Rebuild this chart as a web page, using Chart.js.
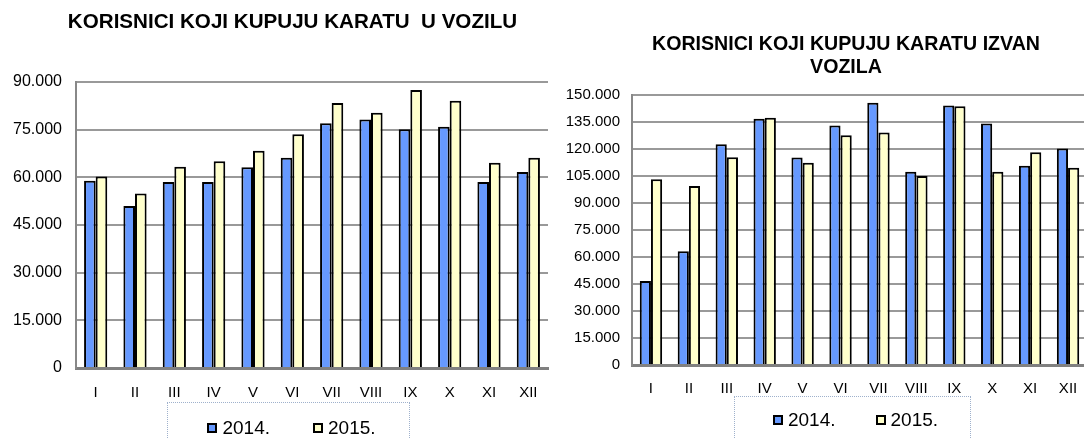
<!DOCTYPE html>
<html>
<head>
<meta charset="utf-8">
<script src="https://cdn.jsdelivr.net/npm/chart.js@4/dist/chart.umd.min.js"></script>
<style>
  html, body { margin: 0; padding: 0; background: #fff; }
  body { width: 1084px; height: 439px; overflow: hidden; position: relative; font-family: "Liberation Sans", Arial, sans-serif; }
  canvas { position: absolute; top: 0; }
  #chartLeft { left: 0; }
  #chartRight { left: 560px; }
  .legend { position: absolute; border: 1px dotted #9fb1cc; height: 60px; display: flex; justify-content: center; box-sizing: border-box; }
  .legend .item { display: flex; align-items: center; height: 20px; }
  .legend .swatch { width: 10px; height: 10px; border: 2px solid #000; box-sizing: border-box; margin-right: 5px; }
  .legend .txt { font-size: 19px; line-height: 20px; color: #000; }
  #legendLeft { left: 167px; top: 402px; width: 243px; gap: 43px; padding-top: 15px; padding-left: 6px; }
  #legendRight { left: 734px; top: 396px; width: 237px; gap: 40px; padding-top: 13px; padding-left: 6px; }
</style>
</head>
<body>
<canvas id="chartLeft" width="585" height="439"></canvas>
<canvas id="chartRight" width="572" height="439"></canvas>
<div class="legend" id="legendLeft"></div>
<div class="legend" id="legendRight"></div>
<script>
// categories
const months = ['I', 'II', 'III', 'IV', 'V', 'VI', 'VII', 'VIII', 'IX', 'X', 'XI', 'XII'];
const seriesLabels = ['2014.', '2015.'];
const seriesColors = ['#6699ff', '#ffffcc'];

// korisnici koji kupuju kartu u vozilu
const uVozilu2014 = [58900, 51000, 58500, 58500, 63200, 66200, 77000, 78200, 75100, 75900, 58500, 61700];
const uVozilu2015 = [60300, 54900, 63300, 65100, 68400, 73600, 83400, 80300, 87500, 84100, 64600, 66200];

// korisnici koji kupuju kartu izvan vozila
const izvan2014 = [46700, 63200, 122600, 136800, 115200, 133000, 145700, 107400, 144100, 134100, 110700, 120200];
const izvan2015 = [103200, 99400, 115400, 137400, 112400, 127600, 129100, 105000, 143700, 107400, 118200, 109600];

const FONT = '"Liberation Sans", Arial, sans-serif';

function fmt(v) {
  return String(v).replace(/\B(?=(\d{3})+(?!\d))/g, '.');
}

function makeChart(canvasId, cfg) {
  return new Chart(document.getElementById(canvasId), {
    type: 'bar',
    data: {
      labels: months,
      datasets: cfg.series.map((vals, i) => ({
        label: seriesLabels[i],
        data: vals,
        backgroundColor: seriesColors[i],
        borderColor: '#000',
        borderWidth: 2,
        barPercentage: 1.0,
        categoryPercentage: 0.59
      }))
    },
    options: {
      responsive: false,
      animation: false,
      devicePixelRatio: 1,
      layout: { padding: { left: 0, right: 0, top: 0, bottom: cfg.padBottom } },
      plugins: {
        legend: { display: false },
        tooltip: { enabled: false },
        title: {
          display: true,
          text: cfg.title,
          color: '#000',
          font: { family: FONT, size: cfg.titleSize, weight: 'bold', lineHeight: cfg.titleLH },
          padding: cfg.titlePad
        }
      },
      scales: {
        x: {
          grid: { drawOnChartArea: false, drawTicks: false },
          border: { display: true, color: '#808080', width: 3 },
          ticks: { color: '#000', font: { family: FONT, size: 15 }, padding: cfg.xPad, maxRotation: 0, autoSkip: false },
          afterFit: s => { s.height = 30; }
        },
        y: {
          min: 0,
          max: cfg.max,
          grid: { color: '#999999', lineWidth: 2, drawTicks: false },
          border: { display: true, color: '#888888', width: 2 },
          ticks: {
            stepSize: 15000,
            color: '#000',
            font: { family: FONT, size: cfg.ySize },
            padding: cfg.yPad,
            callback: v => fmt(v)
          },
          afterFit: s => { s.width = cfg.yWidth; }
        },
        // empty space on the right so the title is centred like in the original
        spacer: {
          type: 'linear',
          position: 'right',
          grid: { display: false, drawTicks: false },
          border: { display: false },
          ticks: { display: false },
          afterFit: s => { s.width = cfg.padRight; }
        }
      }
    }
  });
}

makeChart('chartLeft', {
  series: [uVozilu2014, uVozilu2015],
  title: 'KORISNICI KOJI KUPUJU KARATU  U VOZILU',
  titleSize: 20.6, titleLH: 1.2,
  titlePad: { top: 10, bottom: 47.3 },
  max: 90000, yWidth: 76, yPad: 14, ySize: 16, xPad: 16,
  padRight: 37, padBottom: 41
});

makeChart('chartRight', {
  series: [izvan2014, izvan2015],
  title: ['KORISNICI KOJI KUPUJU KARATU IZVAN', 'VOZILA'],
  titleSize: 19.6, titleLH: 1.16,
  titlePad: { top: 33, bottom: 16.5 },
  max: 150000, yWidth: 72, yPad: 12, ySize: 15, xPad: 15,
  padRight: 45, padBottom: 44
});

// legends
function buildLegend(id) {
  const box = document.getElementById(id);
  seriesLabels.forEach((lab, i) => {
    const item = document.createElement('div');
    item.className = 'item';
    const sw = document.createElement('span');
    sw.className = 'swatch';
    sw.style.background = seriesColors[i];
    const t = document.createElement('span');
    t.className = 'txt';
    t.textContent = lab;
    item.appendChild(sw);
    item.appendChild(t);
    box.appendChild(item);
  });
}
buildLegend('legendLeft');
buildLegend('legendRight');
</script>
</body>
</html>
